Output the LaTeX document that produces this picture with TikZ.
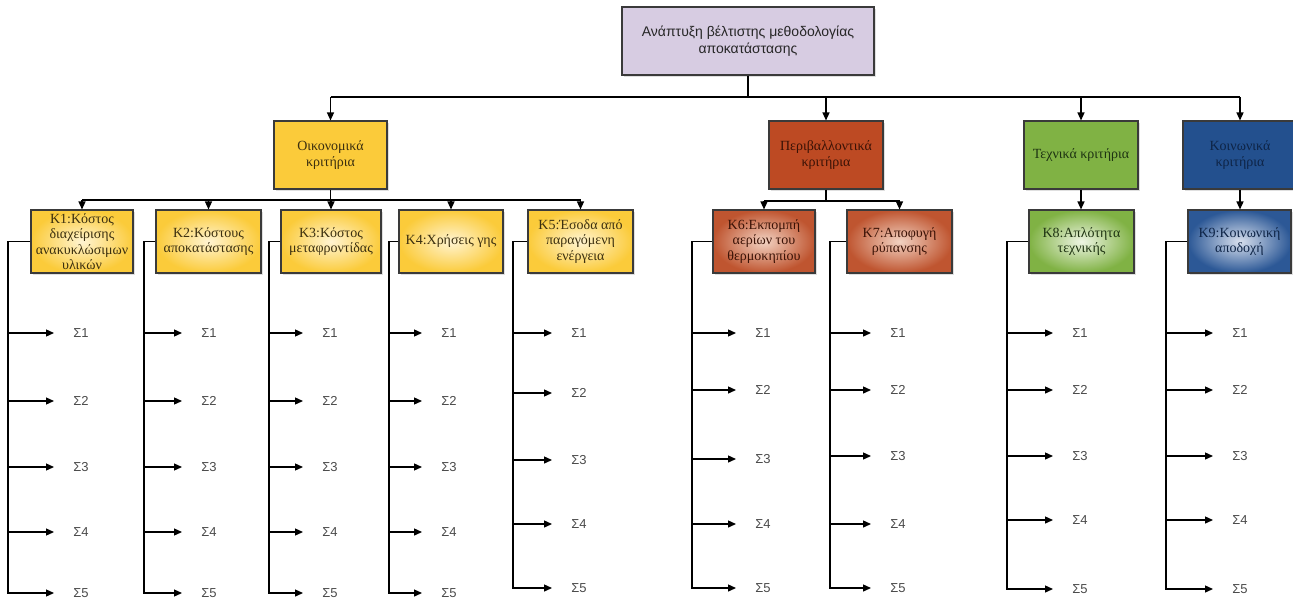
\documentclass[tikz,border=0pt]{standalone}
\usepackage{fontspec}
\setmainfont{Liberation Serif}
\newfontfamily\lsans{Liberation Sans}
\usetikzlibrary{arrows.meta,shadows}
\definecolor{edgecol}{HTML}{3A3A3A}
\definecolor{topfill}{HTML}{D7CCE2}
\definecolor{oikfill}{HTML}{FBCB3A}
\definecolor{oiktext}{HTML}{3B2F0F}
\definecolor{yinner}{HTML}{FFF4D2}
\definecolor{perfill}{HTML}{BD4A23}
\definecolor{pertext}{HTML}{3A1206}
\definecolor{rinner}{HTML}{F2D2C2}
\definecolor{router}{HTML}{BF5530}
\definecolor{texfill}{HTML}{80B244}
\definecolor{textext}{HTML}{1E3312}
\definecolor{ginner}{HTML}{EEF5E4}
\definecolor{koifill}{HTML}{23508E}
\definecolor{koitext}{HTML}{0E2446}
\definecolor{binner}{HTML}{D8E0EE}
\definecolor{bouter}{HTML}{2C5896}
\definecolor{sigcol}{HTML}{4A4A4A}
\begin{document}
\begin{tikzpicture}[x=1pt,y=-1pt,
  every node/.style={inner sep=0pt},
  conn/.style={line width=1.3pt, draw=black},
  arr/.style={conn, -{Triangle[length=8pt,width=7pt]}},
  boxbase/.style={draw=edgecol, line width=1.1pt, align=center,
    drop shadow={shadow xshift=2pt, shadow yshift=-2pt, opacity=0.25}},
  topbox/.style={boxbase, fill=topfill, minimum width=252pt, minimum height=68pt,
    font=\lsans\fontsize{14}{17}\selectfont, text=black!85},
  catbox/.style={boxbase, minimum width=114pt, minimum height=68pt,
    font=\fontsize{14}{16.5}\selectfont},
  critbox/.style={boxbase, minimum height=63pt,
    font=\fontsize{14}{15.5}\selectfont},
  ycrit/.style={critbox, inner color=yinner, outer color=oikfill, text=oiktext},
  rcrit/.style={critbox, inner color=rinner, outer color=router, text=pertext},
  gcrit/.style={critbox, inner color=ginner, outer color=texfill, text=textext},
  bcrit/.style={critbox, inner color=binner, outer color=bouter, text=koitext},
  sig/.style={font=\lsans\fontsize{13}{15}\selectfont, text=sigcol}
]
\useasboundingbox (0,0) rectangle (1293,600);
\clip (0,0) rectangle (1293,600);

% top
\node[topbox] (top) at (748,41) {Ανάπτυξη βέλτιστης μεθοδολογίας\\αποκατάστασης};

% categories
\node[catbox, fill=oikfill, text=oiktext, minimum width=113pt] (oik) at (330.5,155) {Οικονομικά\\κριτήρια};
\node[catbox, fill=perfill, text=pertext] (per) at (826,155) {Περιβαλλοντικά\\κριτήρια};
\node[catbox, fill=texfill, text=textext] (tex) at (1081,155) {Τεχνικά κριτήρια};
\node[catbox, fill=koifill, text=koitext] (koi) at (1240,155) {Κοινωνικά\\κριτήρια};

% criteria
\node[ycrit, minimum width=102pt] (k1) at (82,241.5) {K1:Κόστος\\διαχείρισης\\ανακυκλώσιμων\\υλικών};
\node[ycrit, minimum width=105pt] (k2) at (208.5,241.5) {K2:Κόστους\\αποκατάστασης};
\node[ycrit, minimum width=100pt] (k3) at (331,241.5) {K3:Κόστος\\μεταφροντίδας};
\node[ycrit, minimum width=104pt] (k4) at (451,241.5) {K4:Χρήσεις γης};
\node[ycrit, minimum width=105pt] (k5) at (580.5,241.5) {K5:Έσοδα από\\παραγόμενη\\ενέργεια};
\node[rcrit, minimum width=102pt] (k6) at (764,241.5) {K6:Εκπομπή\\αερίων του\\θερμοκηπίου};
\node[rcrit, minimum width=105pt] (k7) at (899.5,241.5) {K7:Αποφυγή\\ρύπανσης};
\node[gcrit, minimum width=105pt] (k8) at (1081.5,241.5) {K8:Απλότητα\\τεχνικής};
\node[bcrit, minimum width=103pt] (k9) at (1239.5,241.5) {K9:Κοινωνική\\αποδοχή};

% top bus
\coordinate (bus1) at (748,97);
\draw[conn] (top.south) -- (bus1);
\draw[conn] (oik.north |- bus1) -- (koi.north |- bus1);
\foreach \c in {oik,per,tex,koi}{
  \draw[arr] (\c.north |- bus1) -- (\c.north);
}

% economic bus
\coordinate (bus2) at (330.5,200);
\draw[conn] (oik.south) -- (bus2);
\draw[conn] (k1.north |- bus2) -- (k5.north |- bus2);
\foreach \c in {k1,k2,k3,k4,k5}{
  \draw[arr] (\c.north |- bus2) -- (\c.north);
}

% environmental bus
\coordinate (bus3) at (826,201);
\draw[conn] (per.south) -- (bus3);
\draw[conn] (k6.north |- bus3) -- (k7.north |- bus3);
\foreach \c in {k6,k7}{
  \draw[arr] (\c.north |- bus3) -- (\c.north);
}

% technical and social
\draw[arr] (tex.south) -- (tex.south |- k8.north);
\draw[arr] (koi.south) -- (koi.south |- k9.north);

% Sigma columns
\foreach \k/\sx/\lx/\ya/\yb/\yc/\yd/\ye in {
  1/8/81/333/401/467/532/593,
  2/144/209/333/401/467/532/593,
  3/269/330/333/401/467/532/593,
  4/389/449/333/401/467/532/593,
  5/513/579/333/393/460/524/588,
  6/692/763/333/390/459/524/588,
  7/830/898/333/390/456/524/588,
  8/1007/1080/333/390/456/520/589,
  9/1166/1240/333/390/456/520/589}{
  \foreach \i/\yy in {1/\ya,2/\yb,3/\yc,4/\yd,5/\ye}{
    \node[sig] (s\k\i) at (\lx,\yy) {Σ\i};
  }
  \coordinate (sp\k) at (\sx,\ye);
  \draw[arr, shorten >=27pt] (k\k.west) -| (sp\k) -- (s\k5.center);
  \foreach \i in {1,2,3,4}{
    \draw[arr, shorten >=27pt] (sp\k |- s\k\i) -- (s\k\i.center);
  }
}
\end{tikzpicture}
\end{document}
